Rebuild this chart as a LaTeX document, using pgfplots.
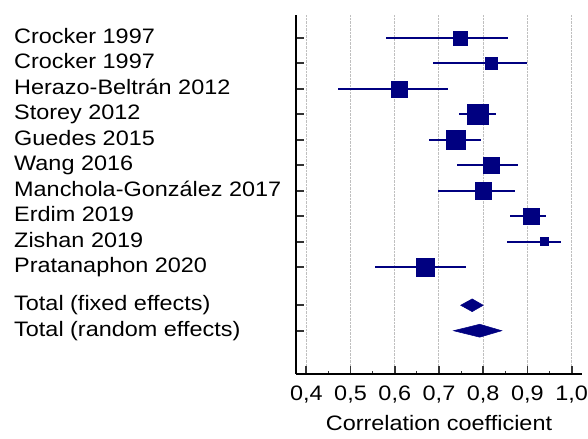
\documentclass[border=0pt]{standalone}
\usepackage{fontspec}
\setmainfont{Liberation Sans}[FakeStretch=1.12]
\usepackage{pgfplots}
\usepackage{pgfplotstable}
\pgfplotsset{compat=1.18}
\definecolor{navy}{HTML}{000080}

\pgfplotstableread{
x     y   lo     hi     s
0.748 1   0.581  0.856  14.3
0.818 2   0.687  0.900  12.0
0.610 3   0.472  0.721  16.3
0.788 4   0.746  0.829  20.7
0.738 5   0.678  0.794  18.7
0.818 6   0.740  0.878  16.3
0.800 7   0.698  0.871  16.3
0.909 8   0.860  0.943  16.3
0.937 9   0.853  0.976  8.0
0.669 10  0.555  0.761  18.7
}\studies

\begin{document}
\begin{tikzpicture}
\path[use as bounding box] (-296.3bp,-65bp) rectangle (291.7bp,374bp);
\begin{axis}[
  at={(0,0)}, anchor=south west,
  scale only axis, width=285.4bp, height=359bp,
  xmin=0.3774, xmax=1.0226, ymin=0.1, ymax=14.2,
  y dir=reverse,
  axis x line*=bottom, axis y line*=left,
  axis line style={line width=2bp, black, -},
  xtick={0.4,0.5,0.6,0.7,0.8,0.9,1.0},
  minor xtick={0.45,0.55,0.65,0.75,0.85,0.95},
  ytick={1,2,3,4,5,6,7,8,9,10,11.5,12.5},
  yticklabels={Crocker 1997, Crocker 1997, Herazo-Beltrán 2012, Storey 2012, Guedes 2015, Wang 2016, Manchola-González 2017, Erdim 2019, Zishan 2019, Pratanaphon 2020, Total (fixed effects), Total (random effects)},
  tick align=inside,
  major tick length=8bp, minor tick length=3bp,
  major tick style={line width=1.8bp, black!80},
  minor tick style={line width=1.2bp, black!80},
  xmajorgrids,
  major grid style={densely dotted, gray!50, line width=1bp},
  /pgf/number format/assume math mode=true,
  tick label style={font=\fontsize{21}{24}\selectfont},
  xticklabel style={yshift=-8bp, /pgf/number format/.cd, use comma, fixed, fixed zerofill, precision=1},
  yticklabel style={anchor=base west, xshift=-282.3bp, yshift=-5.5bp, inner sep=0pt},
  xlabel={Correlation coefficient},
  xlabel style={font=\fontsize{21}{24}\selectfont, at={(axis description cs:0.5,0)}, anchor=center, yshift=-49bp},
]
\addplot[navy, only marks, mark=square*,
  mark options={fill=navy, draw=navy, line width=0.3bp},
  scatter, scatter/use mapped color={draw=navy, fill=navy},
  visualization depends on={\thisrow{s}/2 \as \ms},
  scatter/@pre marker code/.append style={/tikz/mark size=\ms},
  error bars/.cd, x dir=both, x explicit, error mark=none,
  error bar style={line width=1.8bp, navy}]
  table[x=x, y=y, x error plus expr=\thisrow{hi}-\thisrow{x}, x error minus expr=\thisrow{x}-\thisrow{lo}] {\studies};
\addplot[fill=navy, draw=navy, line width=0.5bp] coordinates {(0.749,11.5) (0.775,11.25) (0.800,11.5) (0.775,11.75)} -- cycle;
\addplot[fill=navy, draw=navy, line width=0.5bp] coordinates {(0.733,12.5) (0.792,12.245) (0.842,12.5) (0.792,12.755)} -- cycle;
\end{axis}
\end{tikzpicture}
\end{document}
